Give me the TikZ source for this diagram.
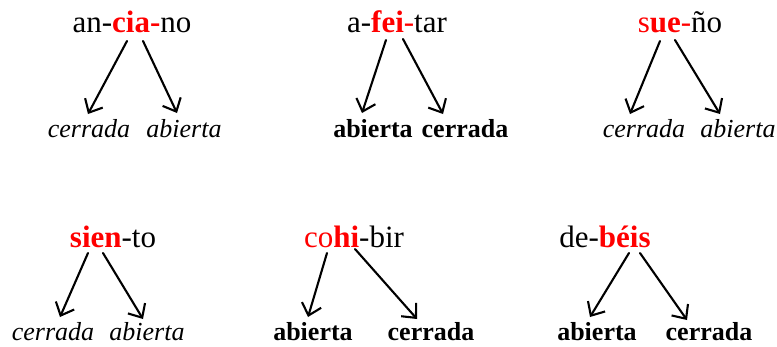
\documentclass[tikz,border=0pt]{standalone}
\usepackage{fontspec}
\setmainfont{Liberation Serif}
\usetikzlibrary{arrows.meta}
\newcommand\hlb[1]{\textcolor{red}{\textbf{#1}}}
\newcommand\hln[1]{\textcolor{red}{#1}}
\begin{document}
\begin{tikzpicture}[x=1pt,y=-1pt,
  word/.style={anchor=base, inner sep=0pt, font=\fontsize{31}{36}\selectfont},
  labi/.style={anchor=base, inner sep=0pt, font=\fontsize{26}{30}\selectfont\itshape},
  labb/.style={anchor=base, inner sep=0pt, font=\fontsize{26}{30}\selectfont\bfseries},
  arr/.style={line width=2.1pt, line cap=round, -{Straight Barb[length=11pt,width=20pt,line width=2.1pt]}}]
\useasboundingbox (0,0) rectangle (777,346);
% panel 1
\node[word] (w1) at (132,32) {an-\hlb{cia-}no};
\node[labi] (l1a) at (89,137) {cerrada};
\node[labi] (l1b) at (184,137) {abierta};
\coordinate (s1a) at (127,41); \coordinate (t1a) at (88,114);
\coordinate (s1b) at (143,41); \coordinate (t1b) at (177,113);
\draw[arr] (s1a) -- (t1a);
\draw[arr] (s1b) -- (t1b);
% panel 2
\node[word] (w2) at (397,32) {a-\hlb{fei}\hln{-}tar};
\node[labb] (l2a) at (373,137) {abierta};
\node[labb] (l2b) at (465,137) {cerrada};
\coordinate (s2a) at (386,40); \coordinate (t2a) at (362,113);
\coordinate (s2b) at (403,39); \coordinate (t2b) at (443,114);
\draw[arr] (s2a) -- (t2a);
\draw[arr] (s2b) -- (t2b);
% panel 3
\node[word] (w3) at (680,32) {\hln{s}\hlb{ue}\hln{-}ño};
\node[labi] (l3a) at (644,137) {cerrada};
\node[labi] (l3b) at (738,137) {abierta};
\coordinate (s3a) at (660,41); \coordinate (t3a) at (630,114);
\coordinate (s3b) at (675,40); \coordinate (t3b) at (720,114);
\draw[arr] (s3a) -- (t3a);
\draw[arr] (s3b) -- (t3b);
% panel 4
\node[word] (w4) at (113,247) {\hlb{sien}-to};
\node[labi] (l4a) at (53,340) {cerrada};
\node[labi] (l4b) at (147,340) {abierta};
\coordinate (s4a) at (88,253); \coordinate (t4a) at (60,317);
\coordinate (s4b) at (103,253); \coordinate (t4b) at (143,319);
\draw[arr] (s4a) -- (t4a);
\draw[arr] (s4b) -- (t4b);
% panel 5
\node[word] (w5) at (354,247) {\hln{co}\hlb{hi}-bir};
\node[labb] (l5a) at (313,340) {abierta};
\node[labb] (l5b) at (431,340) {cerrada};
\coordinate (s5a) at (327,253); \coordinate (t5a) at (308,317);
\coordinate (s5b) at (355,249); \coordinate (t5b) at (417,319);
\draw[arr] (s5a) -- (t5a);
\draw[arr] (s5b) -- (t5b);
% panel 6
\node[word] (w6) at (605,247) {de-\hlb{béis}};
\node[labb] (l6a) at (597,340) {abierta};
\node[labb] (l6b) at (709,340) {cerrada};
\coordinate (s6a) at (629,253); \coordinate (t6a) at (590,317);
\coordinate (s6b) at (640,253); \coordinate (t6b) at (687,320);
\draw[arr] (s6a) -- (t6a);
\draw[arr] (s6b) -- (t6b);
\end{tikzpicture}
\end{document}
